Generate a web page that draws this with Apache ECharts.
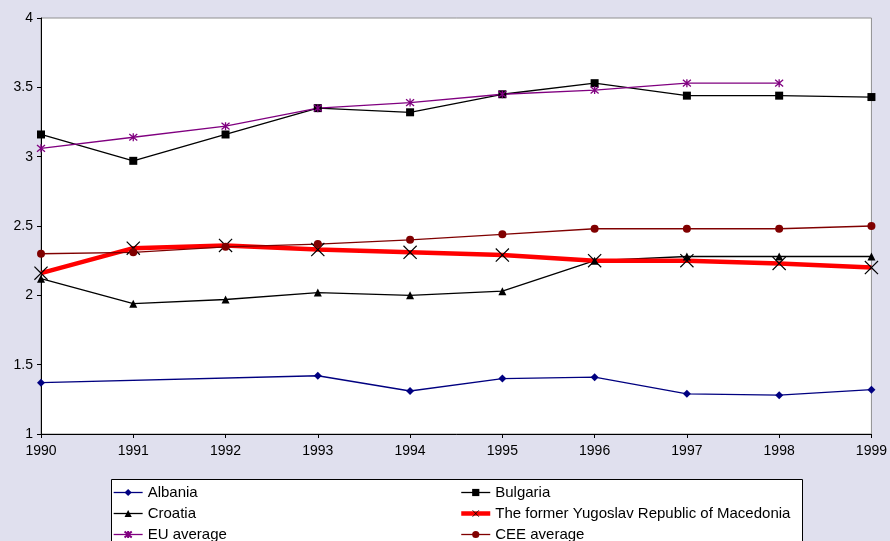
<!DOCTYPE html>
<html>
<head>
<meta charset="utf-8">
<script src="https://cdn.jsdelivr.net/npm/echarts@6/dist/echarts.min.js"></script>
<style>
html,body{margin:0;padding:0;background:#E0E0EE;}
#chart{width:890px;height:541px;}
</style>
</head>
<body>
<div id="chart"></div>
<script>
var years = ['1990','1991','1992','1993','1994','1995','1996','1997','1998','1999'];
var albania   = [1.37, null, null, 1.42, 1.31, 1.40, 1.41, 1.29, 1.28, 1.32];
var bulgaria  = [3.16, 2.97, 3.16, 3.35, 3.32, 3.45, 3.53, 3.44, 3.44, 3.43];
var croatia   = [2.12, 1.94, 1.97, 2.02, 2.00, 2.03, 2.25, 2.28, 2.28, 2.28];
var macedonia = [2.16, 2.34, 2.36, 2.33, 2.31, 2.29, 2.25, 2.25, 2.23, 2.20];
var euAverage = [3.06, 3.14, 3.22, 3.35, 3.39, 3.45, 3.48, 3.53, 3.53, null];
var ceeAverage= [2.30, 2.31, 2.35, 2.37, 2.40, 2.44, 2.48, 2.48, 2.48, 2.50];

var yMin = 1, yMax = 4, yStep = 0.5;

var X_PATH = 'path://M0,0.6L0.6,0L5,4.4L9.4,0L10,0.6L5.6,5L10,9.4L9.4,10L5,5.6L0.6,10L0,9.4L4.4,5Z';
var STAR_PATH = 'path://M0,0L10,10M10,0L0,10M5,-1L5,11';
var FONT = 'Liberation Sans, Arial, sans-serif';

var chart = echarts.init(document.getElementById('chart'));
function ser(name, data, color, symbol, size, width, extra) {
  var s = {
    name: name, type: 'line', data: data, connectNulls: true,
    symbol: symbol, symbolSize: size, showSymbol: true,
    lineStyle: {color: color, width: width},
    itemStyle: {color: color},
    emphasis: {disabled: true}
  };
  if (extra) for (var k in extra) s[k] = extra[k];
  return s;
}
function legendCommon(left, names, widths, markColors) {
  return {
    orient: 'vertical', left: left, top: 484, height: 80, padding: 0,
    itemWidth: 29, itemHeight: 9, itemGap: 4,
    textStyle: {fontSize: 15, color: '#000', fontFamily: FONT, lineHeight: 17},
    lineStyle: {width: 'inherit'},
    data: names.map(function (n, i) {
      return {name: n, lineStyle: {width: widths[i]}, itemStyle: {color: markColors[i]}};
    }),
    z: 10
  };
}
var option = {
  animation: false,
  backgroundColor: '#E0E0EE',
  textStyle: {fontFamily: FONT},
  grid: {left: 41, right: 17, top: 18, bottom: 107, show: true,
         backgroundColor: '#FFFFFF', borderColor: '#909090', borderWidth: 1},
  xAxis: {
    type: 'category', data: years, boundaryGap: false,
    axisLine: {lineStyle: {color: '#000', width: 1}},
    axisTick: {show: true, length: 4, lineStyle: {color: '#000'}, alignWithLabel: true},
    axisLabel: {color: '#000', fontSize: 14, fontFamily: FONT, margin: 10},
    splitLine: {show: false}
  },
  yAxis: {
    type: 'value', min: yMin, max: yMax, interval: yStep,
    axisLine: {show: true, lineStyle: {color: '#000', width: 1}},
    axisTick: {show: true, length: 4, lineStyle: {color: '#000'}},
    axisLabel: {color: '#000', fontSize: 14, fontFamily: FONT, margin: 8},
    splitLine: {show: false}
  },
  graphic: [{
    type: 'rect', shape: {x: 111.5, y: 479.5, width: 691, height: 80},
    style: {fill: '#FFFFFF', stroke: '#000', lineWidth: 1}, z: 0, silent: true
  }],
  legend: [
    legendCommon(113, ['Albania', 'Croatia', 'EU average'], [1.3, 1.3, 1.3],
                 ['#000080', '#000000', '#800080']),
    legendCommon(459, ['Bulgaria', 'The former Yugoslav Republic of Macedonia', 'CEE average'], [1.3, 4.5, 1.3],
                 ['#000000', '#000000', '#800000'])
  ],
  series: [
    ser('Albania', albania, '#000080', 'diamond', 8, 1.3),
    ser('Bulgaria', bulgaria, '#000000', 'rect', 8, 1.3),
    ser('Croatia', croatia, '#000000', 'triangle', 8, 1.3),
    ser('The former Yugoslav Republic of Macedonia', macedonia, '#FF0000', X_PATH, 14, 4.5,
        {itemStyle: {color: '#000000'}, z: 3}),
    ser('EU average', euAverage, '#800080', STAR_PATH, 8, 1.3,
        {itemStyle: {color: '#800080', borderColor: '#800080', borderWidth: 1.3}}),
    ser('CEE average', ceeAverage, '#800000', 'circle', 8, 1.3)
  ]
};
chart.setOption(option);
</script>
</body>
</html>
